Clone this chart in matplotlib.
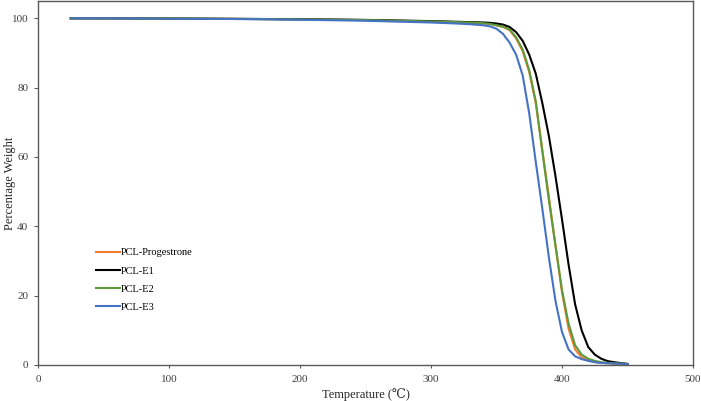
import matplotlib
matplotlib.use('Agg')
import matplotlib.pyplot as plt

plt.rcParams['font.family'] = ['Liberation Serif', 'DejaVu Serif']

temps = [25, 50, 100, 150, 200, 250, 300, 320, 330, 340, 345, 350, 355, 360, 365,
         370, 375, 380, 385, 390, 395, 400, 405, 410, 415, 420, 425, 430, 435, 440, 450]

pcl_progestrone = [100.0, 100.0, 99.95, 99.85, 99.7, 99.5, 99.1, 98.9, 98.8, 98.6, 98.4, 98.0,
                   97.5, 96.6, 94.2, 90.5, 84.5, 75.5, 62.0, 48.5, 34.5, 21.0, 10.5, 4.5,
                   2.2, 1.3, 0.9, 0.6, 0.5, 0.4, 0.3]
pcl_e1 = [100.0, 100.0, 99.95, 99.85, 99.75, 99.55, 99.2, 99.0, 98.9, 98.8, 98.7, 98.5,
          98.2, 97.5, 96.0, 93.5, 89.5, 84.0, 75.5, 66.0, 54.5, 42.0, 29.0, 17.5,
          10.0, 5.2, 3.0, 1.8, 1.1, 0.8, 0.3]
pcl_e2 = [100.0, 100.0, 99.95, 99.85, 99.7, 99.5, 99.1, 98.9, 98.8, 98.6, 98.4, 98.0,
          97.6, 96.8, 94.5, 91.0, 85.0, 76.0, 61.5, 47.5, 34.5, 21.6, 12.0, 5.7,
          3.0, 1.8, 1.2, 0.8, 0.6, 0.5, 0.3]
pcl_e3 = [100.0, 100.0, 99.9, 99.8, 99.6, 99.3, 98.8, 98.5, 98.3, 98.0, 97.7, 97.0,
          95.5, 93.0, 89.5, 83.5, 72.5, 58.5, 45.0, 31.0, 18.5, 9.5, 4.5, 2.5,
          1.7, 1.2, 0.8, 0.6, 0.5, 0.4, 0.3]

series = [
    ('PCL-Progestrone', pcl_progestrone, '#ED7D31'),
    ('PCL-E1', pcl_e1, '#000000'),
    ('PCL-E2', pcl_e2, '#5E9A3A'),
    ('PCL-E3', pcl_e3, '#4472C4'),
]

fig = plt.figure(figsize=(7.01, 4.01), dpi=100)
ax = fig.add_axes([0.0542, 0.0898, 0.9344, 0.9077])

for name, vals, color in series:
    ax.plot(temps, vals, color=color, lw=1.5, label=name,
            solid_joinstyle='round')

ax.set_xlim(0, 500)
ax.set_ylim(0, 105)
ax.set_xticks([0, 100, 200, 300, 400, 500])
ax.set_yticks([0, 20, 40, 60, 80, 100])
ax.tick_params(axis='both', labelsize=8, colors='#595959', labelcolor='#404040')
ax.tick_params(axis='y', length=3, pad=4)
ax.tick_params(axis='x', length=2, pad=5)
for s in ax.spines.values():
    s.set_color('#595959')
    s.set_linewidth(1.0)

ax.set_xlabel('Temperature (℃)', fontsize=9, color='#262626', labelpad=3)
ax.set_ylabel('Percentage Weight', fontsize=9, color='#262626')
ax.yaxis.set_label_coords(-0.033, 0.5)

ax.legend(loc='center left', bbox_to_anchor=(0.0885, 0.2335), frameon=False,
          fontsize=7.5, borderpad=0, borderaxespad=0, handlelength=2.3,
          handletextpad=0.1, labelspacing=0.85)

fig.savefig('out.png', dpi=100)
